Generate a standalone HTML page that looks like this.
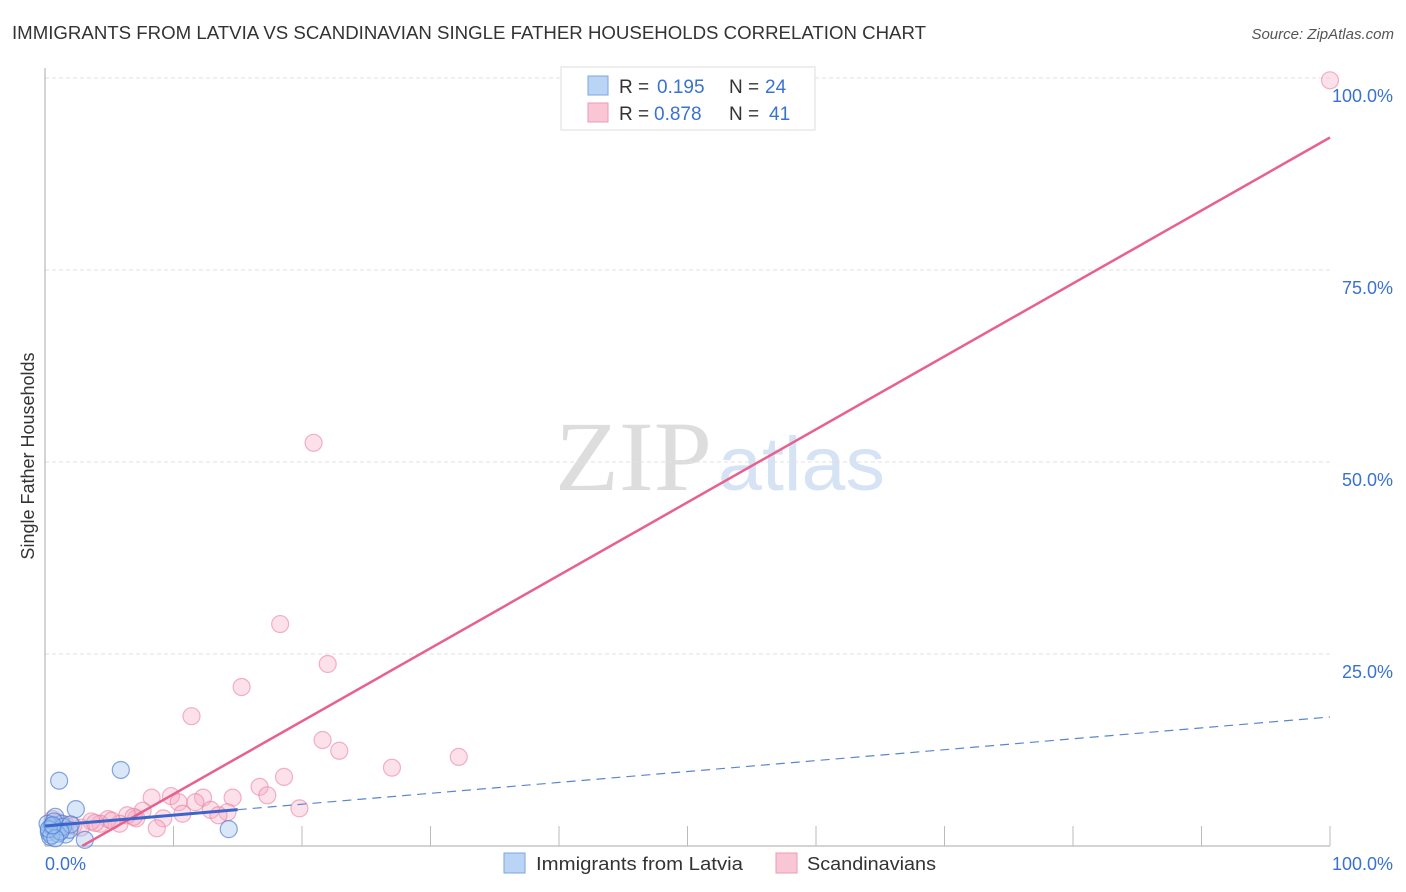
<!DOCTYPE html>
<html><head><meta charset="utf-8"><style>
body{margin:0;background:#fff;font-family:"Liberation Sans",sans-serif}
svg{display:block}
</style></head><body>
<svg id="c" width="1406" height="892">
<text x="12" y="39" font-size="18" fill="#333" textLength="914" lengthAdjust="spacingAndGlyphs">IMMIGRANTS FROM LATVIA VS SCANDINAVIAN SINGLE FATHER HOUSEHOLDS CORRELATION CHART</text>
<text x="1394" y="39" font-size="15" fill="#555" text-anchor="end" font-style="italic">Source: ZipAtlas.com</text>
<text transform="translate(34,456) rotate(-90)" font-size="18" fill="#333" text-anchor="middle">Single Father Households</text>
<text x="555" y="490" font-size="100" fill="#ddd" textLength="157" lengthAdjust="spacingAndGlyphs" font-family="Liberation Serif">ZIP</text>
<text x="718" y="490" font-size="76" fill="#d5e3f5" textLength="167" lengthAdjust="spacingAndGlyphs">atlas</text>
<g id="grid"></g><g id="axes"></g><g id="pts"></g><g id="lines"></g>
<g>
<rect x="561" y="67" width="254" height="63" fill="#fff" stroke="#ddd"/>
<rect x="588" y="76" width="20" height="19" fill="#b9d4f5" stroke="#7aa6e0"/>
<rect x="588" y="103" width="20" height="19" fill="#f9c6d5" stroke="#ee9ab3"/>
<g font-size="19" fill="#333">
<text x="619" y="93">R =</text><text x="657" y="93" fill="#3a72d0">0.195</text>
<text x="729" y="93">N =</text><text x="765" y="93" fill="#3a72d0">24</text>
<text x="619" y="120">R =</text><text x="654" y="120" fill="#3a72d0">0.878</text>
<text x="729" y="120">N =</text><text x="769" y="120" fill="#3a72d0">41</text>
</g>
</g>
<g>
<rect x="504" y="853" width="21" height="20" fill="#b9d4f5" stroke="#7aa6e0"/>
<text x="536" y="870" font-size="18" fill="#333" textLength="207" lengthAdjust="spacingAndGlyphs">Immigrants from Latvia</text>
<rect x="776" y="853" width="21" height="20" fill="#f9c6d5" stroke="#ee9ab3"/>
<text x="807" y="870" font-size="18" fill="#333" textLength="129" lengthAdjust="spacingAndGlyphs">Scandinavians</text>
</g>
</svg>
<script>
const yTicks=[25,50,75,100];
const yTickLabels=["25.0%","50.0%","75.0%","100.0%"];
const blueX=[1.1,5.9,2.4,14.3,0.8,0.5,0.9,1.3,1.6,0.3,0.6,1.9,3.1,0.4,1.0,0.2,0.7,1.4,2.0,0.5,1.2,0.3,0.8,0.6];
const blueY=[8.5,9.9,4.8,2.2,3.8,2.6,2.0,2.9,1.5,1.8,2.4,2.1,0.8,1.2,1.6,2.9,3.2,2.5,2.8,1.4,1.9,2.2,1.0,2.7];
const pinkX=[100,20.9,18.3,22.0,15.3,11.4,21.6,22.9,32.2,27.0,18.6,16.7,17.3,14.6,8.3,9.8,12.3,11.7,10.4,19.8,12.9,10.7,14.2,7.6,9.2,8.7,7.1,6.4,5.8,4.9,4.3,3.6,2.2,1.6,1.0,0.6,2.8,3.9,5.2,6.9,13.5];
const pinkY=[99.7,52.5,28.9,23.7,20.7,16.9,13.8,12.4,11.6,10.2,9.0,7.7,6.6,6.3,6.3,6.5,6.3,5.7,5.7,4.9,4.7,4.2,4.4,4.6,3.6,2.3,3.6,4.0,2.9,3.5,2.9,3.2,2.6,2.8,3.1,3.5,2.4,3.0,3.3,3.8,4.0];
const pinkFit=[0.95,-2.75];
const blueFit=[0.142,2.6];
const X=v=>45+v*12.85, Y=v=>846-v*7.68;
const NS="http://www.w3.org/2000/svg";
function mk(t,a,p){const e=document.createElementNS(NS,t);for(const k in a)e.setAttribute(k,a[k]);p.appendChild(e);return e;}
const grid=document.getElementById('grid'),axes=document.getElementById('axes');
yTicks.forEach((t,i)=>{
 const l=mk('line',{x1:45,x2:1330,y1:Y(t),y2:Y(t),stroke:'#e2e2e2','stroke-dasharray':'4,3'},grid);
 
 
 const tx=mk('text',{x:1393,y:Y(t)+24,'font-size':18,fill:'#3a72d0','text-anchor':'end'},axes);
 tx.textContent=yTickLabels[i];
 
 
});
let a=mk('line',{x1:45,x2:45,y1:68,y2:846,stroke:'#aaa'},axes);

a=mk('line',{x1:45,x2:1330,y1:846,y2:846,stroke:'#aaa'},axes);

for(let i=1;i<=10;i++){const t=mk('line',{x1:X(i*10),x2:X(i*10),y1:826,y2:846,stroke:'#bbb'},axes);
 }
let t0=mk('text',{x:45,y:870,'font-size':18,fill:'#3a72d0'},axes);t0.textContent='0.0%';

t0=mk('text',{x:1393,y:870,'font-size':18,fill:'#3a72d0','text-anchor':'end'},axes);t0.textContent='100.0%';

const pts=document.getElementById('pts');
pinkX.forEach((x,i)=>{const c=mk('circle',{cx:X(x),cy:Y(pinkY[i]),r:8.5,fill:'rgba(246,170,195,0.35)',stroke:'rgba(232,120,155,0.55)','stroke-width':1.2},pts);
 });
blueX.forEach((x,i)=>{const c=mk('circle',{cx:X(x),cy:Y(blueY[i]),r:8.5,fill:'rgba(160,195,240,0.4)',stroke:'rgba(70,120,210,0.65)','stroke-width':1.2},pts);
 });
const ln=document.getElementById('lines');
const px0=-pinkFit[1]/pinkFit[0];
let l=mk('line',{x1:X(px0),y1:Y(0),x2:X(100),y2:Y(pinkFit[0]*100+pinkFit[1]),stroke:'#e8608e','stroke-width':2.5},ln);

l=mk('line',{x1:X(0),y1:Y(blueFit[1]),x2:X(15),y2:Y(blueFit[0]*15+blueFit[1]),stroke:'#3a66cc','stroke-width':3},ln);

l=mk('line',{x1:X(15),y1:Y(blueFit[0]*15+blueFit[1]),x2:X(100),y2:Y(blueFit[0]*100+blueFit[1]),stroke:'#5a86d0','stroke-width':1.2,'stroke-dasharray':'9,6'},ln);

</script>
</body></html>
